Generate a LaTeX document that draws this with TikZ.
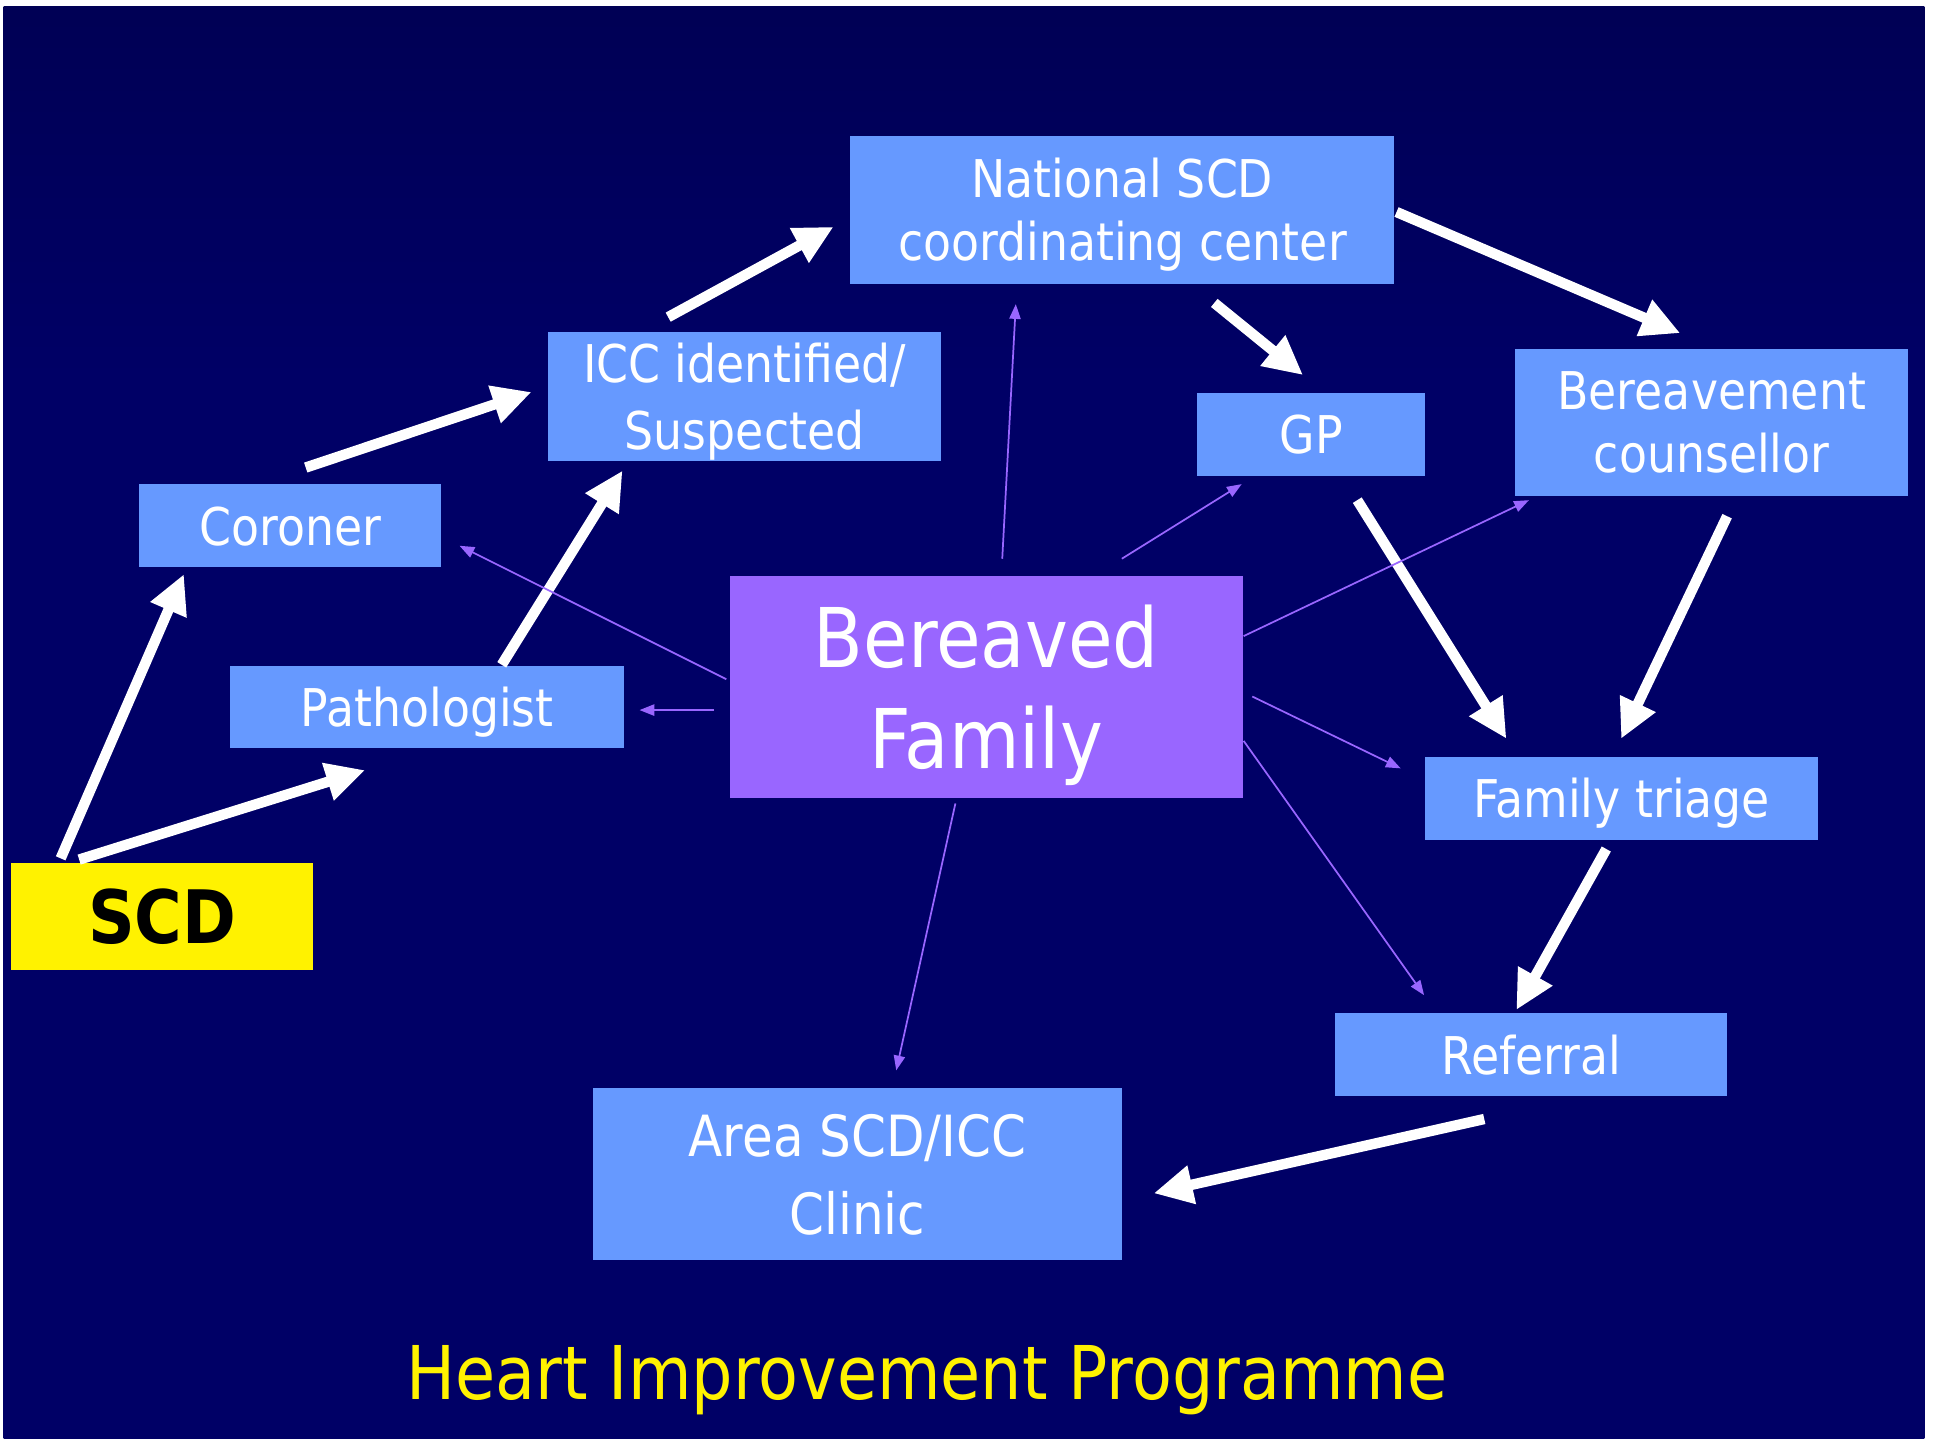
\documentclass[tikz,border=0pt]{standalone}
\usepackage{fontspec}
\setmainfont{DejaVu Sans}[FakeStretch=0.88]
\usetikzlibrary{arrows.meta, calc}

\definecolor{boxblue}{HTML}{6699FF}
\definecolor{famviolet}{HTML}{9966FF}
\definecolor{bgdark}{HTML}{000033}
\definecolor{bgmid}{HTML}{000066}
\pgfdeclareverticalshading{slidebg}{100bp}{color(0bp)=(bgdark); color(25bp)=(bgmid); color(62bp)=(bgmid); color(100bp)=(bgdark)}

\begin{document}
\begin{tikzpicture}[x=0.01cm, y=-0.01cm,
  box/.style={fill=boxblue, text=white, inner sep=0, text depth=0pt, align=center, font=\fontsize{12}{14.5}\selectfont},
  flow/.style={-{Triangle[length=9pt, width=8.5pt]}, white, line width=2.4pt},
  link/.style={-{Triangle[length=3.4pt, width=2.6pt]}, famviolet, line width=0.4pt}]
\fill[white] (0,0) rectangle (1568,1167);
\shade[shading=slidebg] (3,5) rectangle (1561,1167);
\node[box, minimum width=4.41cm, minimum height=1.2cm] (national) at (910.5,170) {National SCD\\coordinating center};
\node[box, minimum width=3.18cm, minimum height=1.05cm, font=\fontsize{12}{15.6}\selectfont] (icc) at (604,321.5) {ICC identified/\\Suspected};
\node[box, minimum width=1.85cm, minimum height=0.67cm] (gp) at (1063.5,352.5) {GP};
\node[box, minimum width=3.19cm, minimum height=1.19cm] (counsellor) at (1388.5,342.5) {Bereavement\\counsellor};
\node[box, minimum width=2.45cm, minimum height=0.67cm] (coroner) at (235.5,426.5) {Coroner};
\node[box, minimum width=3.19cm, minimum height=0.67cm] (patho) at (346.5,573.5) {Pathologist};
\node[box, fill=famviolet, minimum width=4.16cm, minimum height=1.8cm, font=\fontsize{19}{23.3}\selectfont] (family) at (800,557) {Bereaved\\Family};
\node[box, minimum width=3.19cm, minimum height=0.67cm] (triage) at (1315.5,647.5) {Family triage};
\node[box, minimum width=3.18cm, minimum height=0.67cm] (referral) at (1242,855.5) {Referral};
\node[box, minimum width=4.29cm, minimum height=1.39cm, font=\fontsize{13.1}{17.9}\selectfont] (clinic) at (695.5,952.5) {Area SCD/ICC\\Clinic};
\node[box, fill=yellow, text=black, minimum width=2.45cm, minimum height=0.87cm, font=\fontsize{17}{20}\selectfont\bfseries] (scd) at (131.5,743.5) {SCD};
\node[text=yellow, anchor=base, font=\fontsize{17.1}{20}\selectfont] (title) at (752,1135) {Heart Improvement Programme};
% Pathway
\draw[flow] ($(scd.north west)+(41,-3)$) -- ($(coroner.south west)+(37,5)$);
\draw[flow] ($(scd.north west)+(56,-2)$) -- ($(patho.south west)+(110,17)$);
\draw[flow] ($(coroner.north)+(12.5,-13)$) -- ($(icc.west)+(-13,-3.5)$);
\draw[flow] ($(patho.north)+(60.5,0)$) -- ($(icc.south)+(-99,7)$);
\draw[flow] ($(icc.north)+(-62,-11)$) -- ($(national.west)+(-13,14)$);
\draw[flow] ($(national.south)+(74.5,15)$) -- ($(gp.north)+(-6.5,-14)$);
\draw[flow] ($(national.east)+(1,2)$) -- ($(counsellor.north)+(-25.5,-12)$);
\draw[flow] ($(gp.south)+(37.5,19)$) -- ($(triage.north)+(-93.5,-14)$);
\draw[flow] ($(counsellor.south)+(12.5,16)$) -- ($(triage.north)+(-0.5,-14)$);
\draw[flow] ($(triage.south)+(-12.5,7)$) -- ($(referral.north)+(-12,-2)$);
\draw[flow] ($(referral.south)+(-38,18)$) -- ($(clinic.east)+(25,15.5)$);
% Family links
\draw[link] ($(family.west)+(-2,-6)$) -- ($(coroner.south east)+(14,-18)$);
\draw[link] ($(family.west)+(-12,19)$) -- ($(patho.east)+(12,2.5)$);
\draw[link] ($(family.north)+(13,-13)$) -- ($(national.south)+(-86.5,16)$);
\draw[link] ($(family.north)+(110,-13)$) -- ($(gp.south west)+(37,6)$);
\draw[link] ($(family.east)+(0,-41)$) -- ($(counsellor.south west)+(12,3)$);
\draw[link] ($(family.east)+(7,8)$) -- ($(triage.north west)+(-19,10)$);
\draw[link] ($(family.east)+(0,44)$) -- ($(referral.north west)+(73,-14)$);
\draw[link] ($(family.south)+(-25,4)$) -- ($(clinic.north)+(31.5,-14)$);
\end{tikzpicture}
\end{document}
